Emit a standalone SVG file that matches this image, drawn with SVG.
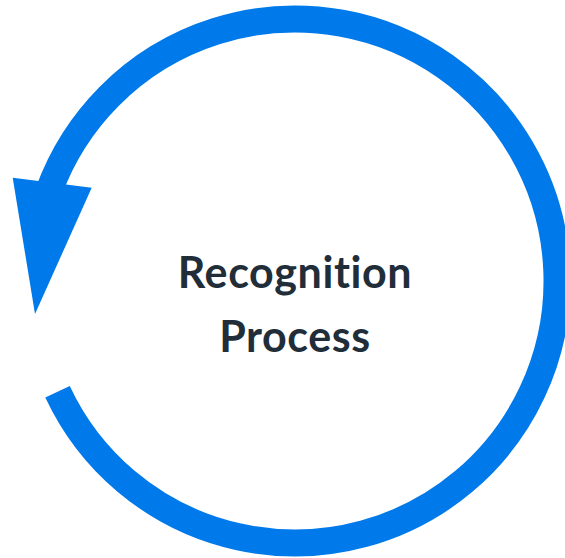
<svg xmlns="http://www.w3.org/2000/svg" width="565" height="558" viewBox="0 0 565 558">
<style>
.ring{fill:none;stroke:#0079EA;stroke-width:27;stroke-linecap:butt}
.head{fill:#0079EA}
.lbl{font-family:Lato,"Open Sans","Liberation Sans",sans-serif;font-weight:bold;font-size:43px;letter-spacing:0.6px;font-variant-ligatures:none;fill:#212e39;text-anchor:middle}
</style>
<rect width="565" height="558" fill="#ffffff"/>
<g id="connectors">
<path class="ring" d="M 57.55 391.7 A 262 262 0 1 0 48.8 191.4"/>
<polygon class="head" points="12.7,177.7 91.7,187.7 35,314"/>
</g>
<g id="center-label">
<text class="lbl" x="295" y="288">Recognition</text>
<text class="lbl" x="295" y="352">Process</text>
</g>
</svg>
